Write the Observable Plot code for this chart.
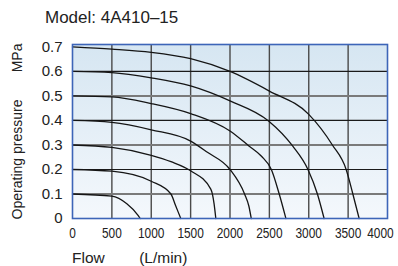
<!DOCTYPE html>
<html><head><meta charset="utf-8">
<script src="https://cdn.jsdelivr.net/npm/d3@7"></script>
<script src="https://cdn.jsdelivr.net/npm/@observablehq/plot@0.6"></script>
<style>
body{margin:0;background:#fff;}
#title{box-sizing:border-box;height:34px;padding:9px 0 0 45px;font:17px "Liberation Sans",Arial,sans-serif;line-height:18px;color:#222;}
#chart svg text{fill:#222;}
</style>
</head><body>
<div id="title">Model: 4A410–15</div>
<div id="chart"></div>
<script>
const flowTicks = [0, 500, 1000, 1500, 2000, 2500, 3000, 3500, 4000];
const pressureTicks = [0, 0.1, 0.2, 0.3, 0.4, 0.5, 0.6, 0.7];
const pressureLabels = ["0", "0.1", "0.2", "0.3", "0.4", "0.5", "0.6", "0.7"];
const gridDark = [0.2, 0.4, 0.6];
const gridGray = [0.1, 0.3, 0.5];
const gridFlow = [500, 1000, 1500, 2000, 2500, 3000, 3500];

// [flow L/min, pressure MPa]
const curve01 = [[0,0.1],[500,0.091],[690,0.06],[835,0.012],[860,0]];
const curve02 = [[0,0.2],[500,0.193],[1000,0.152],[1250,0.1],[1310,0.052],[1375,0]];
const curve03 = [[0,0.3],[500,0.29],[1000,0.258],[1250,0.232],[1500,0.195],[1756,0.12],[1798,0.06],[1820,0]];
const curve04 = [[0,0.4],[500,0.392],[1000,0.362],[1500,0.316],[1713,0.27],[2000,0.2],[2185,0.1],[2240,0.05],[2270,0]];
const curve05 = [[0,0.5],[500,0.496],[1000,0.469],[1500,0.428],[2000,0.357],[2240,0.296],[2400,0.254],[2525,0.2],[2625,0.1],[2710,0]];
const curve06 = [[0,0.6],[500,0.595],[1000,0.574],[1500,0.541],[2000,0.48],[2490,0.398],[2795,0.296],[2990,0.2],[3110,0.1],[3195,0]];
const curve07 = [[0,0.7],[500,0.691],[1000,0.678],[1500,0.652],[2000,0.6],[2500,0.52],[3000,0.425],[3300,0.3],[3475,0.2],[3560,0.1],[3640,0]];
const curves = [curve01, curve02, curve03, curve04, curve05, curve06, curve07];

const font = '"Liberation Sans",Arial,sans-serif';
const lineMarks = curves.map(c => Plot.line(c, {x: d => d[0], y: d => d[1], stroke: "#151515", strokeWidth: 1.3, curve: "monotone-x"}));

const svg = Plot.plot({
  width: 398, height: 232,
  marginTop: 10, marginBottom: 48, marginLeft: 72, marginRight: 11,
  style: {fontSize: "14.5px", fontFamily: font, background: "transparent", overflow: "visible"},
  x: {domain: [0, 4000], ticks: flowTicks, tickSize: 0, tickPadding: 9, tickFormat: d => String(d),
      label: "Flow\u00a0\u00a0\u00a0\u00a0\u00a0\u00a0\u00a0\u00a0(L/min)", labelAnchor: "left", labelOffset: 44, labelArrow: false},
  y: {domain: [0, 0.71], ticks: pressureTicks, tickSize: 0, tickPadding: 10,
      tickFormat: d => pressureLabels[pressureTicks.indexOf(d)],
      label: "Operating pressure\u00a0\u00a0\u00a0\u00a0\u00a0\u00a0\u00a0MPa", labelAnchor: "center", labelOffset: 60, labelArrow: false},
  marks: [
    Plot.frame({fill: "url(#bggrad)", stroke: "none"}),
    Plot.ruleX(gridFlow, {stroke: "#4a4a4a", strokeWidth: 1.4}),
    Plot.ruleY(gridGray, {stroke: "#7a7a7a", strokeWidth: 2}),
    Plot.ruleY(gridDark, {stroke: "#1a1a1a", strokeWidth: 1.2}),
    ...lineMarks,
    Plot.frame({stroke: "#3d65b8", strokeWidth: 1.6})
  ]
});
const defs = d3.select(svg).insert("defs", ":first-child");
const g = defs.append("linearGradient").attr("id", "bggrad").attr("x1", 0).attr("y1", 0).attr("x2", 0).attr("y2", 1);
g.append("stop").attr("offset", "0%").attr("stop-color", "#d6e6f2");
g.append("stop").attr("offset", "100%").attr("stop-color", "#f4f8fc");
document.getElementById("chart").appendChild(svg);

const S = d3.select(svg);
S.selectAll("text").each(function () {
  if (/[↑→←↓]/.test(this.textContent)) this.textContent = this.textContent.replace(/[↑→←↓]/g, "").trim();
});
const xLabel = svg.querySelector('g[aria-label="x-axis label"] text');
const yLabel = svg.querySelector('g[aria-label="y-axis label"] text');
if (xLabel) xLabel.style.fontSize = "15.5px";
if (yLabel) yLabel.style.fontSize = "14px";
S.selectAll('g[aria-label="y-axis tick label"] text').style("font-size", "15px");
const svgRect = svg.getBoundingClientRect();
if (xLabel) {
  const r = xLabel.getBoundingClientRect();
  const dx = 72 - (r.left - svgRect.left);
  xLabel.setAttribute("transform", (xLabel.getAttribute("transform") || "") + ` translate(${dx},0)`);
}
const xTicks = svg.querySelectorAll('g[aria-label="x-axis tick label"] text');
xTicks.forEach((t, i) => {
  const len = t.getComputedTextLength();
  t.setAttribute("textLength", (len * 0.82).toFixed(1));
  t.setAttribute("lengthAdjust", "spacingAndGlyphs");
  if (i === xTicks.length - 1) t.setAttribute("transform", (t.getAttribute("transform") || "") + " translate(-7,0)");
});
</script>
</body></html>
